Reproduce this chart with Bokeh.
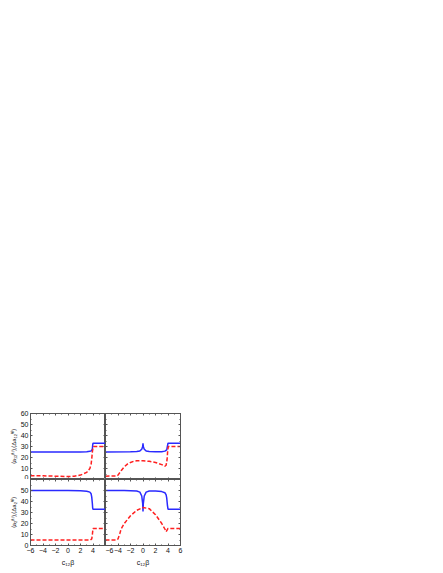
from bokeh.plotting import figure
from bokeh.layouts import gridplot
from bokeh.models import Range1d, LinearAxis, SingleIntervalTicker, CustomLabelingPolicy
from bokeh.embed import file_html
from bokeh.resources import INLINE

# ---- data ----
tl_blue_x = [-6, -4, -2, 0, 2, 3, 3.5, 3.7, 3.8, 3.9, 3.95, 4.0, 4.05, 6]
tl_blue_y = [25, 25, 25, 25, 25.1, 25.3, 25.6, 26, 26.5, 28, 31, 33, 33, 33]
tl_red_x = [-6, -4, -2, 0, 1, 2, 3, 3.5, 3.7, 3.8, 3.9, 4.0, 4.1, 6]
tl_red_y = [3.5, 3.3, 3.0, 2.7, 3.0, 4.0, 6.5, 10, 14, 19, 25, 29, 30, 30]

tr_blue_x = [-6, -2, -1, -0.5, -0.2, -0.05, 0, 0.05, 0.2, 0.5, 1, 2, 3, 3.5, 3.8, 3.9, 4.0, 6]
tr_blue_y = [25, 25.2, 25.5, 26, 27.5, 30, 33, 30, 27.5, 26, 25.5, 25.2, 25.3, 25.8, 27, 30, 33, 33]
tr_red_x = [-6, -4.2, -4, -3.5, -3, -2.5, -2, -1.5, -1, 0, 1, 2, 3, 3.5, 3.7, 3.85, 3.95, 4.05, 6]
tr_red_y = [3, 3.2, 4, 8, 11.5, 14, 15.5, 16.5, 17, 17, 16.5, 15.5, 13.5, 12, 13, 18, 26, 30, 30]

bl_blue_x = [-6, -2, 0, 2, 3, 3.5, 3.7, 3.8, 3.9, 3.95, 4.0, 6]
bl_blue_y = [50, 50, 50, 49.8, 49.3, 48.5, 47, 44, 38, 34, 33, 33]
bl_red_x = [-6, 3.6, 3.8, 3.9, 4.0, 6]
bl_red_y = [5, 5, 6, 10, 15.5, 15.5]

br_blue_x = [-6, -3, -1, -0.5, -0.2, -0.05, 0, 0.05, 0.2, 0.5, 1, 2, 3, 3.5, 3.7, 3.8, 3.9, 4.0, 6]
br_blue_y = [50, 50, 49.5, 48.5, 45, 38, 31, 38, 45, 48.5, 49.5, 49.5, 49, 48, 46, 43, 37, 33, 33]
br_red_x = [-6, -4.2, -4, -3.7, -3.5, -3, -2, -1, 0, 1, 2, 3, 3.5, 3.7, 3.85, 4.0, 6]
br_red_y = [5, 5, 6, 11, 15, 20, 27, 32, 34.5, 33.5, 28, 20, 15, 12.5, 14, 15.5, 15.5]

x_label = "c\u2081\u2082\u03b2"
y_label_top = "\u27e8a\u2081\u2082\u207d\u1d57\u207e\u27e9,\u27e8\u0394a\u2081\u2082\u207d\u1d57\u207e\u27e9"
y_label_bot = "\u27e8a\u2082\u207d\u1d57\u207e\u27e9,\u27e8\u0394a\u2082\u207d\u1d57\u207e\u27e9"

FONT = "Liberation Sans"
BLUE = "#2a2aff"
RED = "#ff2020"
FRAME = "#555555"
PW, PH = 75, 66
LEFT_B, TOP_B, BOT_B, RIGHT_B = 30, 413, 26, 4

NO_LABELS = "for (let i = 0; i < indices.size; i++) { indices.unset(i) }\nreturn indices"


def style_axis(ax, show_labels, hide=None):
    ax.major_tick_in = 2
    ax.major_tick_out = 0
    ax.minor_tick_in = 1
    ax.minor_tick_out = 0
    ax.axis_line_color = FRAME
    ax.major_tick_line_color = FRAME
    ax.minor_tick_line_color = FRAME
    ax.major_label_text_font = FONT
    ax.axis_label_text_font = FONT
    ax.axis_label_text_font_style = "normal"
    ax.major_label_text_color = "#111111"
    ax.axis_label_text_color = "#111111"
    if show_labels:
        ax.major_label_text_font_size = "7px"
        ax.major_label_standoff = 2
        if hide:
            ax.major_label_overrides = hide
    else:
        ax.major_label_text_font_size = "0px"
        ax.major_label_standoff = 0
        ax.major_label_policy = CustomLabelingPolicy(code=NO_LABELS)


def make(left, bottom, bx, by, rx, ry, ylab=None, hide_y=None, hide_x=None):
    bl_ = LEFT_B if left else 0
    br_ = 0 if left else RIGHT_B
    bt_ = 0 if bottom else TOP_B
    bb_ = BOT_B if bottom else 0
    p = figure(width=PW + bl_ + br_, height=PH + bt_ + bb_, output_backend="svg",
               toolbar_location=None,
               x_range=Range1d(-6, 6), y_range=Range1d(0, 60),
               min_border_left=bl_, min_border_right=br_,
               min_border_top=bt_, min_border_bottom=bb_,
               x_axis_location=None, y_axis_location=None)
    p.grid.visible = False
    p.outline_line_color = FRAME
    p.background_fill_color = "white"
    p.border_fill_color = "white"
    xt = lambda: SingleIntervalTicker(interval=2, num_minor_ticks=2)
    yt = lambda: SingleIntervalTicker(interval=10, num_minor_ticks=2)
    xb = LinearAxis(ticker=xt())
    style_axis(xb, bottom, hide_x)
    if bottom:
        xb.axis_label = x_label
        xb.axis_label_text_font_size = "7px"
        xb.axis_label_standoff = 3
    p.add_layout(xb, "below")
    xa = LinearAxis(ticker=xt())
    style_axis(xa, False)
    p.add_layout(xa, "above")
    yl = LinearAxis(ticker=yt())
    style_axis(yl, left, hide_y)
    if left:
        yl.axis_label = ylab
        yl.axis_label_text_font_size = "6px"
        yl.axis_label_standoff = 1
    p.add_layout(yl, "left")
    yr = LinearAxis(ticker=yt())
    style_axis(yr, False)
    p.add_layout(yr, "right")
    p.line(bx, by, color=BLUE, line_width=1.5)
    p.line(rx, ry, color=RED, line_width=1.5, line_dash="4 2")
    return p


tl = make(True, False, tl_blue_x, tl_blue_y, tl_red_x, tl_red_y, ylab=y_label_top)
tr = make(False, False, tr_blue_x, tr_blue_y, tr_red_x, tr_red_y)
bl = make(True, True, bl_blue_x, bl_blue_y, bl_red_x, bl_red_y, ylab=y_label_bot,
          hide_y={60: ""}, hide_x={6: ""})
br = make(False, True, br_blue_x, br_blue_y, br_red_x, br_red_y)

grid = gridplot([[tl, tr], [bl, br]], toolbar_location=None)
open("out.html", "w").write(file_html(grid, INLINE))
